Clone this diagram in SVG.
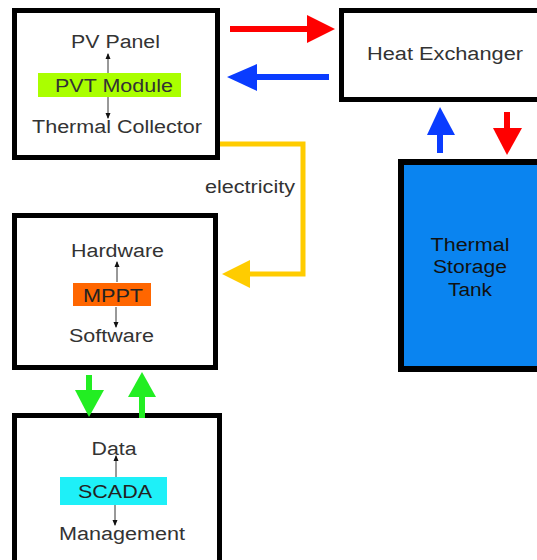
<svg xmlns="http://www.w3.org/2000/svg" width="537" height="560" viewBox="0 0 537 560">
<defs>
<style>
.box{fill:#fff;stroke:#000;stroke-width:5}
.t{font-family:"Liberation Sans",Arial,sans-serif;font-size:18px;fill:#333;text-anchor:middle}
.thin{stroke:#333;stroke-width:1;fill:none}
</style>
<marker id="sm" viewBox="0 0 6 6" refX="5" refY="3" markerWidth="6" markerHeight="6" orient="auto" markerUnits="userSpaceOnUse">
<path d="M0,0.5 L6,3 L0,5.5 Z" fill="#111"/>
</marker>
</defs>
<rect width="537" height="560" fill="#fff"/>
<g id="pvt">
<rect class="box" x="14.5" y="10.5" width="203" height="147"/>
<text class="t" x="115.5" y="48" textLength="89" lengthAdjust="spacingAndGlyphs">PV Panel</text>
<rect x="38" y="73" width="143" height="24" fill="#aaff00"/>
<text class="t" x="114" y="92" textLength="118" lengthAdjust="spacingAndGlyphs">PVT Module</text>
<text class="t" x="117" y="133" textLength="170" lengthAdjust="spacingAndGlyphs">Thermal Collector</text>
<line class="thin" x1="108" y1="73" x2="108" y2="54" marker-end="url(#sm)"/>
<line class="thin" x1="108" y1="97" x2="108" y2="118" marker-end="url(#sm)"/>
</g>
<g id="hx">
<rect class="box" x="341.5" y="10.5" width="205" height="89"/>
<text class="t" x="445" y="60" textLength="156" lengthAdjust="spacingAndGlyphs">Heat Exchanger</text>
</g>
<g id="tank">
<rect x="401" y="162" width="145" height="207" fill="#0a84f0" stroke="#000" stroke-width="6"/>
<text class="t" x="470" y="251" textLength="79" lengthAdjust="spacingAndGlyphs" style="fill:#111">Thermal</text>
<text class="t" x="470" y="273" textLength="74" lengthAdjust="spacingAndGlyphs" style="fill:#111">Storage</text>
<text class="t" x="470" y="296" textLength="44" lengthAdjust="spacingAndGlyphs" style="fill:#111">Tank</text>
</g>
<g id="mppt">
<rect class="box" x="14.5" y="215.5" width="201" height="152"/>
<text class="t" x="117.5" y="257" textLength="93" lengthAdjust="spacingAndGlyphs">Hardware</text>
<rect x="73" y="283" width="78" height="23" fill="#ff6600"/>
<text class="t" x="113" y="302" textLength="60" lengthAdjust="spacingAndGlyphs" style="fill:#222">MPPT</text>
<text class="t" x="111.5" y="342" textLength="85" lengthAdjust="spacingAndGlyphs">Software</text>
<line class="thin" x1="117" y1="282" x2="117" y2="262" marker-end="url(#sm)"/>
<line class="thin" x1="116" y1="307" x2="116" y2="327" marker-end="url(#sm)"/>
</g>
<g id="scada">
<rect class="box" x="14.5" y="415.5" width="205" height="160"/>
<text class="t" x="114" y="455" textLength="45" lengthAdjust="spacingAndGlyphs">Data</text>
<rect x="60" y="477" width="107" height="28" fill="#1ef0f8"/>
<text class="t" x="115" y="498" textLength="74" lengthAdjust="spacingAndGlyphs" style="fill:#222">SCADA</text>
<text class="t" x="122" y="540" textLength="126" lengthAdjust="spacingAndGlyphs">Management</text>
<line class="thin" x1="116" y1="477" x2="116" y2="456" marker-end="url(#sm)"/>
<line class="thin" x1="115" y1="505" x2="115" y2="525" marker-end="url(#sm)"/>
</g>
<g id="connectors">
<line x1="230" y1="29" x2="310" y2="29" stroke="#ff0000" stroke-width="6"/>
<polygon points="307,15 335,29 307,43" fill="#ff0000"/>
<line x1="329" y1="77" x2="254" y2="77" stroke="#0a3cff" stroke-width="6"/>
<polygon points="257,64 227,77 257,91" fill="#0a3cff"/>
<line x1="440" y1="153" x2="440" y2="132" stroke="#0a3cff" stroke-width="6"/>
<polygon points="427,135 440,107 455,135" fill="#0a3cff"/>
<line x1="507" y1="112" x2="507" y2="131" stroke="#ff0000" stroke-width="6"/>
<polygon points="493,128 522,128 507,155" fill="#ff0000"/>
<polyline points="220,144 303,144 303,274 247,274" fill="none" stroke="#ffcc00" stroke-width="5"/>
<polygon points="250,260 222,274 250,288" fill="#ffcc00"/>
<text class="t" x="250" y="193" textLength="90" lengthAdjust="spacingAndGlyphs">electricity</text>
<line x1="89" y1="375" x2="89" y2="393" stroke="#22ee22" stroke-width="6"/>
<polygon points="75,390 104,390 89,417" fill="#22ee22"/>
<line x1="142" y1="418" x2="142" y2="394" stroke="#22ee22" stroke-width="6"/>
<polygon points="128,397 142,372 156,397" fill="#22ee22"/>
</g>
</svg>
